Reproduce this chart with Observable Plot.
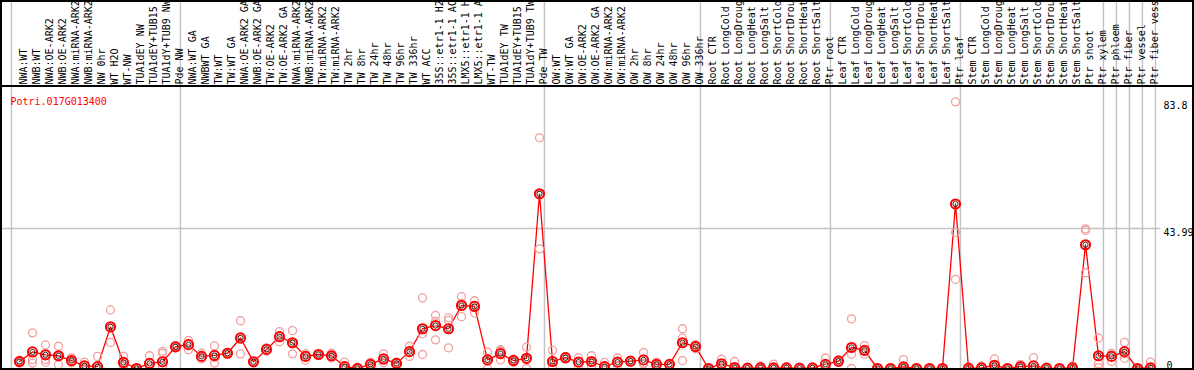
<!DOCTYPE html>
<html>
<head>
<meta charset="utf-8">
<script src="https://cdn.jsdelivr.net/npm/d3@7"></script>
<script src="https://cdn.jsdelivr.net/npm/@observablehq/plot@0.6"></script>
<style>
  html, body { margin: 0; padding: 0; background: #fff; }
  #chart { position: absolute; left: 0; top: 0; }
</style>
</head>
<body>
<div id="chart"></div>
<script>
const geneName = "Potri.017G013400";

const labels = [
  "NWA:WT","NWB:WT","NWA:OE-ARK2","NWB:OE-ARK2","NWA:miRNA-ARK2","NWB:miRNA-ARK2","NW 0hr","WT H2O","WT-NW",
  "TUA1dEY NW","TUA1dEY+TUB15","TUA1dY+TUB9 NW","Pde NW",
  "NWA:WT GA","NWBWT GA","TW:WT","TW:WT GA","NWA:OE-ARK2 GA","NWB:OE-ARK2 GA","TW:OE-ARK2","TW:OE-ARK2 GA",
  "NWA:miRNA-ARK2","NWB:miRNA-ARK2","TW:miRNA-ARK2","TW:miRNA-ARK2","TW 2hr","TW 8hr","TW 24hr","TW 48hr",
  "TW 96hr","TW 336hr","WT ACC","35S::etr1-1 H2","35S::etr1-1 AC","LMX5::etr1-1 H","LMX5::etr1-1 A","WT-TW",
  "TUA1dEY TW","TUA1dEY+TUB15","TUA1dY+TUB9 TW","Pde TW",
  "OW:WT","OW:WT GA","OW:OE-ARK2","OW:OE-ARK2 GA","OW:miRNA-ARK2","OW:miRNA-ARK2","OW 2hr","OW 8hr","OW 24hr",
  "OW 48hr","OW 96hr","OW 336hr",
  "Root CTR","Root LongCold","Root LongDroug","Root LongHeat","Root LongSalt","Root ShortCold","Root ShortDrou",
  "Root ShortHeat","Root ShortSalt","Ptr root",
  "Leaf CTR","Leaf LongCold","Leaf LongDroug","Leaf LongHeat","Leaf LongSalt","Leaf ShortCold","Leaf ShortDrou",
  "Leaf ShortHeat","Leaf ShortSalt","Ptr leaf",
  "Stem CTR","Stem LongCold","Stem LongDroug","Stem LongHeat","Stem LongSalt","Stem ShortCold","Stem ShortDrou",
  "Stem ShortHeat","Stem ShortSalt","Ptr shoot",
  "Ptr xylem","Ptr phloem","Ptr fiber","Ptr vessel","Ptr fiber vess"
];

const means = [
  2.2,5.2,4.3,4.0,2.5,0.8,0.6,13.1,1.9,0,1.6,2.1,6.8,
  7.5,3.8,4.1,4.8,9.6,2.1,6.0,10.0,8.1,3.8,4.4,4.0,0.6,0,1.3,3.0,1.6,5.3,12.5,13.5,12.5,19.8,19.5,2.7,4.7,2.5,3.2,54.9,
  2.2,3.4,2.0,2.2,0.6,2.0,2.3,2.7,1.3,1.3,8.1,6.9,
  0,1.5,0.3,0.1,0.2,0.2,0.2,0.1,0.2,1.3,
  2.3,6.6,5.7,0,0,0.5,0,0,0,51.7,
  0.1,0.2,1.0,0,0.6,0.8,0.1,0,0.2,38.9,
  4.0,3.8,5.3,0,0.2
];

const repA = [
  2.6,11.2,7.4,7.0,2.3,2.0,3.8,18.4,3.8,0,4.0,5.4,7.2,
  8.8,4.8,7.1,4.8,15.0,2.1,6.5,11.6,11.9,4.7,4.4,4.8,2.0,0.4,2.0,4.6,2.0,7.0,22.2,16.7,15.9,22.6,21.3,5.1,5.5,3.0,6.7,72.5,
  5.7,3.8,3.4,4.0,1.9,3.3,2.5,5.0,2.0,1.5,12.5,6.2,
  0,2.9,2.2,0.3,0.8,1.4,0.5,0.3,0.4,3.3,
  2.7,15.6,7.2,0,0,2.8,0,0,0,83.8,
  0.3,0.8,3.0,0.2,1.3,3.4,0.2,0,0.8,43.9,
  9.6,4.8,8.2,0,2.0
];
const repB = [
  1.7,2.8,2.8,4.0,1.8,0.5,0,8.2,0.6,0,0.3,4.8,6.5,
  5.9,3.0,1.7,4.6,4.6,2.2,5.4,8.4,4.6,2.6,4.5,3.3,0.1,0,0.6,1.8,1.1,3.8,10.9,9.0,6.5,16.3,17.5,0,2.7,2.0,0,37.6,
  0.3,3.0,0.6,0.6,0.1,0.8,2.1,1.7,0.8,1.1,9.6,7.5,
  0,0.6,0,0,0,0,0,0,0,0.3,
  1.9,4.5,4.5,0,0,0,0,0,0,42.8,
  0,0,0.2,0,0.3,0,0,0,0,43.4,
  1.5,2.2,3.2,0,0
];
const repC = [
  2.3,1.7,2.0,1.2,3.3,0,0,12.7,1.3,0,0.5,0.6,6.8,
  7.8,3.6,3.5,5.0,9.2,2.0,6.1,10.0,7.8,4.1,4.3,3.9,0,0,1.3,2.6,1.7,5.1,4.4,14.8,15.1,20.5,19.7,3.0,5.9,2.5,3.0,54.6,
  0.6,3.4,2.0,2.0,0,1.9,2.3,1.4,1.1,1.3,2.5,7.0,
  0,1.0,0,0,0,0,0,0,0,0.3,
  2.3,0,5.4,0,0,0,0,0,0,28.0,
  0,0,0,0,0.2,0,0,0,0,30.1,
  0.3,4.3,4.6,0,0
];

const groupStarts = [0, 13, 41, 53, 63, 73, 84, 85, 86, 87, 88];
const yTicks = [83.8, 43.99, 0];

const meanData = means.map((v, i) => ({i, v}));
const repData = [repA, repB, repC].flatMap(arr => arr.map((v, i) => ({i, v})));
const labelData = labels.map((t, i) => ({i, t}));
const sepData = groupStarts.map(k => k - 0.62);

const red = "#ff0000";
const pink = "#f2a0a0";
const grid = "#c4c4c4";

const plot = Plot.plot({
  width: 1194,
  height: 370,
  marginLeft: 19,
  marginRight: 44,
  marginTop: 88,
  marginBottom: 2,
  style: {fontFamily: "'DejaVu Sans Mono', monospace", fontSize: "10px", background: "#fff", overflow: "visible"},
  x: {type: "linear", domain: [0, 87], axis: null},
  y: {domain: [0, 88], axis: null},
  marks: [
    Plot.ruleX(sepData, {x: d => d, stroke: grid, strokeWidth: 1.5, insetTop: -88, insetBottom: -2}),
    Plot.ruleY([yTicks[1]], {y: d => d, x1: -1.5, x2: 87.8, stroke: grid, strokeWidth: 1.5}),
    Plot.text(labelData, {x: "i", text: "t", frameAnchor: "top", dy: -4, rotate: -90, textAnchor: "start", fill: "#000"}),
    Plot.line(meanData, {x: "i", y: "v", stroke: red, strokeWidth: 1.3}),
    Plot.dot(repData, {x: "i", y: "v", r: 4, stroke: pink, strokeWidth: 1.3, fill: "none"}),
    Plot.dot(meanData, {x: "i", y: "v", r: 4.6, stroke: red, strokeWidth: 2, fill: "none"}),
    Plot.dot(meanData, {x: "i", y: "v", r: 2.6, stroke: "#000", strokeWidth: 0.8, fill: "none"}),
    Plot.text(yTicks.filter(d => d > 0), {y: d => d, text: d => String(d), frameAnchor: "right", dx: 13, textAnchor: "start", lineAnchor: "top", fill: "#000"}),
    Plot.text(yTicks.filter(d => d === 0), {y: d => d, text: d => String(d), frameAnchor: "right", dx: 16, textAnchor: "start", lineAnchor: "bottom", fill: "#000"}),
    Plot.text([geneName], {text: d => d, frameAnchor: "top-left", dx: -9, dy: 9, textAnchor: "start", fill: red})
  ]
});

document.getElementById("chart").appendChild(plot);

// frame borders
const svg = d3.select(plot);
const border = svg.append("g").attr("stroke", "#000").attr("stroke-width", 2).attr("fill", "none");
border.append("line").attr("x1", 0).attr("x2", 1194).attr("y1", 1).attr("y2", 1);
border.append("line").attr("x1", 1).attr("x2", 1).attr("y1", 0).attr("y2", 370);
border.append("line").attr("x1", 0).attr("x2", 1194).attr("y1", 86).attr("y2", 86);
border.append("line").attr("x1", 0).attr("x2", 1194).attr("y1", 369).attr("y2", 369);
border.append("line").attr("x1", 1193).attr("x2", 1193).attr("y1", 0).attr("y2", 370);
</script>
</body>
</html>
